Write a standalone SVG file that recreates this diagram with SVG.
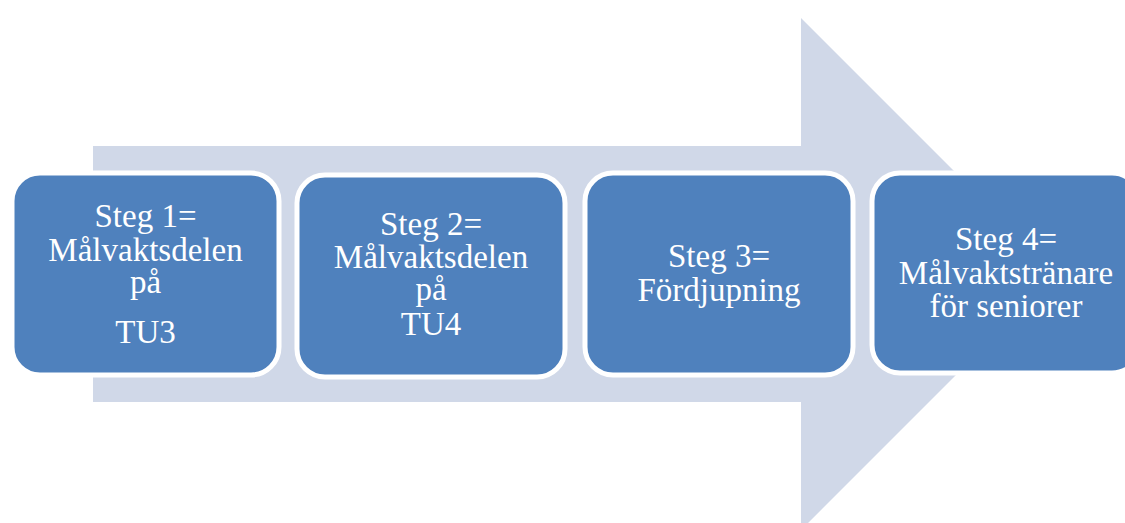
<svg xmlns="http://www.w3.org/2000/svg" width="1125" height="523" viewBox="0 0 1125 523">
<style>
.box{fill:#4F81BD;stroke:#FFFFFF;stroke-width:5}
.t{font-family:"Liberation Serif","Times New Roman",serif;font-size:33px;fill:#FFFFFF;text-anchor:middle}
</style>
<rect width="1125" height="523" fill="#FFFFFF"/>
<g id="arrow">
<polygon points="93,146 801,146 801,18 1057,274 801,530 801,402 93,402" fill="#D0D8E8"/>
</g>
<g id="step1">
<rect class="box" x="12" y="173" width="267" height="202" rx="28" ry="28"/>
<text class="t" x="145.5" y="227">Steg 1=</text>
<text class="t" x="145.5" y="261">Målvaktsdelen</text>
<text class="t" x="145.5" y="293">på</text>
<text class="t" x="145.5" y="343">TU3</text>
</g>
<g id="step2">
<rect class="box" x="297" y="175" width="268" height="202" rx="28" ry="28"/>
<text class="t" x="431" y="235">Steg 2=</text>
<text class="t" x="431" y="268">Målvaktsdelen</text>
<text class="t" x="431" y="300">på</text>
<text class="t" x="431" y="335">TU4</text>
</g>
<g id="step3">
<rect class="box" x="585" y="173" width="268" height="202" rx="28" ry="28"/>
<text class="t" x="719" y="267">Steg 3=</text>
<text class="t" x="719" y="301">Fördjupning</text>
</g>
<g id="step4">
<rect class="box" x="872" y="173" width="268" height="200" rx="28" ry="28"/>
<text class="t" x="1006" y="250">Steg 4=</text>
<text class="t" x="1006" y="284">Målvaktstränare</text>
<text class="t" x="1006" y="317">för seniorer</text>
</g>
<g id="connectors"/>
</svg>
